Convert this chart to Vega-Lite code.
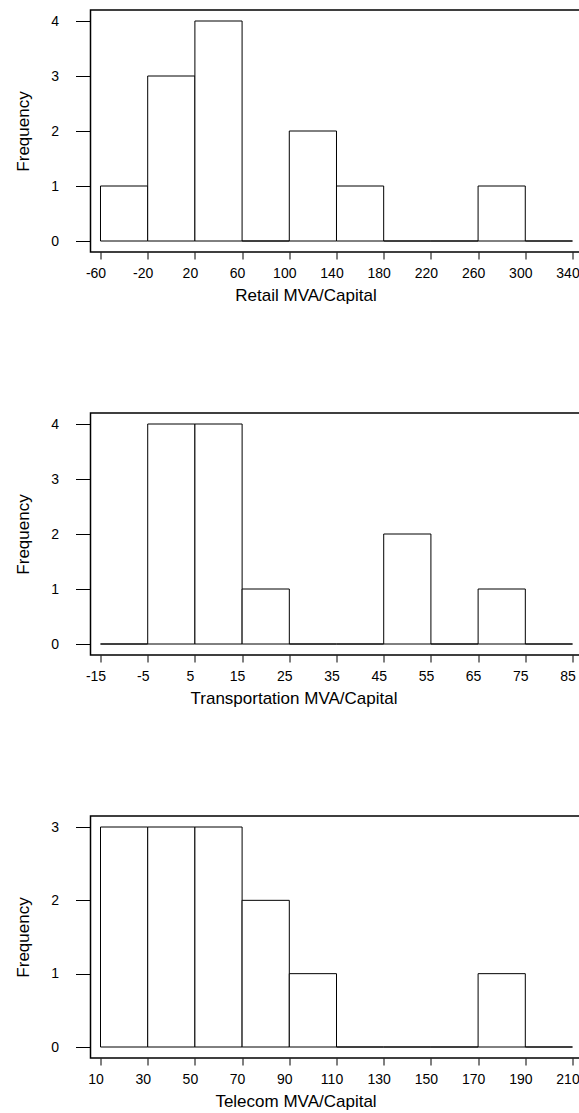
{
  "$schema": "https://vega.github.io/schema/vega-lite/v6.json",
  "padding": {"top": 9, "left": 13.5, "right": 0, "bottom": 0},
  "background": "white",
  "datasets": {
    "retail": [
      {"start": -60, "end": -20, "count": 1},
      {"start": -20, "end": 20, "count": 3},
      {"start": 20, "end": 60, "count": 4},
      {"start": 60, "end": 100, "count": 0},
      {"start": 100, "end": 140, "count": 2},
      {"start": 140, "end": 180, "count": 1},
      {"start": 180, "end": 220, "count": 0},
      {"start": 220, "end": 260, "count": 0},
      {"start": 260, "end": 300, "count": 1},
      {"start": 300, "end": 340, "count": 0}
    ],
    "transport": [
      {"start": -15, "end": -5, "count": 0},
      {"start": -5, "end": 5, "count": 4},
      {"start": 5, "end": 15, "count": 4},
      {"start": 15, "end": 25, "count": 1},
      {"start": 25, "end": 35, "count": 0},
      {"start": 35, "end": 45, "count": 0},
      {"start": 45, "end": 55, "count": 2},
      {"start": 55, "end": 65, "count": 0},
      {"start": 65, "end": 75, "count": 1},
      {"start": 75, "end": 85, "count": 0}
    ],
    "telecom": [
      {"start": 10, "end": 30, "count": 3},
      {"start": 30, "end": 50, "count": 3},
      {"start": 50, "end": 70, "count": 3},
      {"start": 70, "end": 90, "count": 2},
      {"start": 90, "end": 110, "count": 1},
      {"start": 110, "end": 130, "count": 0},
      {"start": 130, "end": 150, "count": 0},
      {"start": 150, "end": 170, "count": 0},
      {"start": 170, "end": 190, "count": 1},
      {"start": 190, "end": 210, "count": 0}
    ]
  },
  "config": {
    "view": {"stroke": "black", "strokeWidth": 1.5},
    "axis": {
      "labelFont": "Liberation Sans",
      "titleFont": "Liberation Sans",
      "labelFontSize": 14,
      "titleFontSize": 17,
      "titleFontWeight": "normal",
      "labelColor": "black",
      "titleColor": "black",
      "tickColor": "black",
      "tickWidth": 1,
      "domain": false,
      "grid": false,
      "labelFlush": false,
      "labelOverlap": false
    },
    "axisX": {"tickSize": 7, "labelPadding": 7, "titlePadding": 7, "labelOffset": -5, "titleAlign": "center"},
    "axisY": {"tickSize": 15, "labelPadding": 17, "titleAlign": "center", "titleBaseline": "middle", "titleAngle": 270, "titleX": -67, "titleY": 121}
  },
  "spacing": 108,
  "vconcat": [
    {
      "width": 490,
      "height": 242,
      "data": {"name": "retail"},
      "mark": {"type": "rect", "fill": "white", "stroke": "black", "strokeWidth": 1},
      "encoding": {
        "x": {"field": "start", "type": "quantitative",
              "scale": {"domain": [-68.47, 346.8], "nice": false, "zero": false},
              "axis": {"values": [-60, -20, 20, 60, 100, 140, 180, 220, 260, 300, 340], "title": "Retail MVA/Capital", "titleX": 215, "labelExpr": "'' + datum.value"}},
        "x2": {"field": "end"},
        "y": {"field": "count", "type": "quantitative",
              "scale": {"domain": [-0.2, 4.2], "nice": false, "zero": false},
              "axis": {"values": [0, 1, 2, 3, 4], "title": "Frequency"}},
        "y2": {"datum": 0}
      }
    },
    {
      "width": 490,
      "height": 242,
      "data": {"name": "transport"},
      "mark": {"type": "rect", "fill": "white", "stroke": "black", "strokeWidth": 1},
      "encoding": {
        "x": {"field": "start", "type": "quantitative",
              "scale": {"domain": [-17.12, 86.69], "nice": false, "zero": false},
              "axis": {"values": [-15, -5, 5, 15, 25, 35, 45, 55, 65, 75, 85], "title": "Transportation MVA/Capital", "titleX": 203, "labelExpr": "'' + datum.value"}},
        "x2": {"field": "end"},
        "y": {"field": "count", "type": "quantitative",
              "scale": {"domain": [-0.2, 4.2], "nice": false, "zero": false},
              "axis": {"values": [0, 1, 2, 3, 4], "title": "Frequency"}},
        "y2": {"datum": 0}
      }
    },
    {
      "width": 490,
      "height": 242,
      "data": {"name": "telecom"},
      "mark": {"type": "rect", "fill": "white", "stroke": "black", "strokeWidth": 1},
      "encoding": {
        "x": {"field": "start", "type": "quantitative",
              "scale": {"domain": [5.76, 213.39], "nice": false, "zero": false},
              "axis": {"values": [10, 30, 50, 70, 90, 110, 130, 150, 170, 190, 210], "title": "Telecom MVA/Capital", "titleX": 205, "labelExpr": "'' + datum.value"}},
        "x2": {"field": "end"},
        "y": {"field": "count", "type": "quantitative",
              "scale": {"domain": [-0.15, 3.15], "nice": false, "zero": false},
              "axis": {"values": [0, 1, 2, 3], "title": "Frequency"}},
        "y2": {"datum": 0}
      }
    }
  ]
}
